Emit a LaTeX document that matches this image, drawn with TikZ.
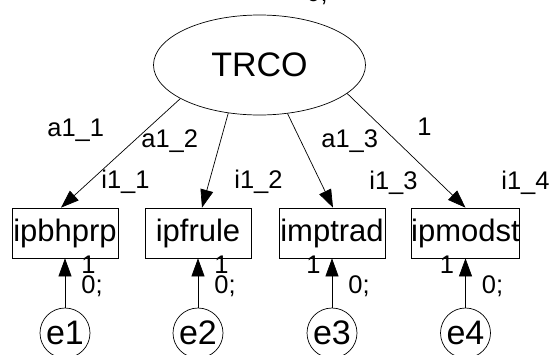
\documentclass[tikz,border=0pt]{standalone}
\usepackage{fontspec}
\setmainfont{Liberation Sans}
\usetikzlibrary{shapes.geometric,arrows.meta}
\begin{document}
\begin{tikzpicture}[x=1pt,y=-1pt,
  line width=0.7pt,
  obs/.style={draw,rectangle,minimum width=106pt,minimum height=50pt,inner sep=0pt,font=\fontsize{31}{31}\selectfont},
  lat/.style={draw,ellipse,minimum width=212pt,minimum height=100pt,inner sep=0pt,font=\fontsize{34}{34}\selectfont},
  err/.style={draw,circle,minimum size=50pt,inner sep=0pt,font=\fontsize{34}{34}\selectfont},
  lbl/.style={anchor=base west,inner sep=0pt,font=\fontsize{25.5}{25.5}\selectfont},
  arr/.style={-{Triangle[length=18pt,width=13pt]}}]
\useasboundingbox (0,0) rectangle (552,354);
\clip (0,0) rectangle (552,354);
\node[lat] (T) at (259.5,65) {TRCO};
\node[obs] (b1) at (65,233) {ipbhprp};
\node[obs] (b2) at (198,233) {ipfrule};
\node[obs] (b3) at (332,233) {imptrad};
\node[obs] (b4) at (465.5,233) {ipmodst};
\node[err] (e1) at (65,333) {e1};
\node[err] (e2) at (198,333) {e2};
\node[err] (e3) at (332,333) {e3};
\node[err] (e4) at (465.5,333) {e4};
\draw[arr] (T.203) -- ([xshift=-4pt]b1.north);
\draw[arr] (T.237) -- ([xshift=4pt]b2.north);
\draw[arr] (T.300) -- ([xshift=1pt]b3.north);
\draw[arr] (T.342) -- (b4.north);
\draw[arr] (e1) -- (b1);
\draw[arr] (e2) -- (b2);
\draw[arr] (e3) -- (b3);
\draw[arr] (e4) -- (b4);
\node[lbl] (la1) at (47,136) {a1\_1};
\node[lbl] (la2) at (141,147) {a1\_2};
\node[lbl] (la3) at (321,147) {a1\_3};
\node[lbl] (la4) at (417,135) {1};
\node[lbl] (li1) at (101,188) {i1\_1};
\node[lbl] (li2) at (234,188) {i1\_2};
\node[lbl] (li3) at (369,189) {i1\_3};
\node[lbl] (li4) at (501,189) {i1\_4};
\node[lbl] (o1) at (81,273) {1};
\node[lbl] (o2) at (214,273) {1};
\node[lbl] (o3) at (306,273) {1};
\node[lbl] (o4) at (439.5,273) {1};
\node[lbl] (v1) at (81,293) {0;};
\node[lbl] (v2) at (214,293) {0;};
\node[lbl] (v3) at (348,293) {0;};
\node[lbl] (v4) at (481.5,293) {0;};
\node[lbl] (vT) at (306,1) {0;};
\end{tikzpicture}
\end{document}
